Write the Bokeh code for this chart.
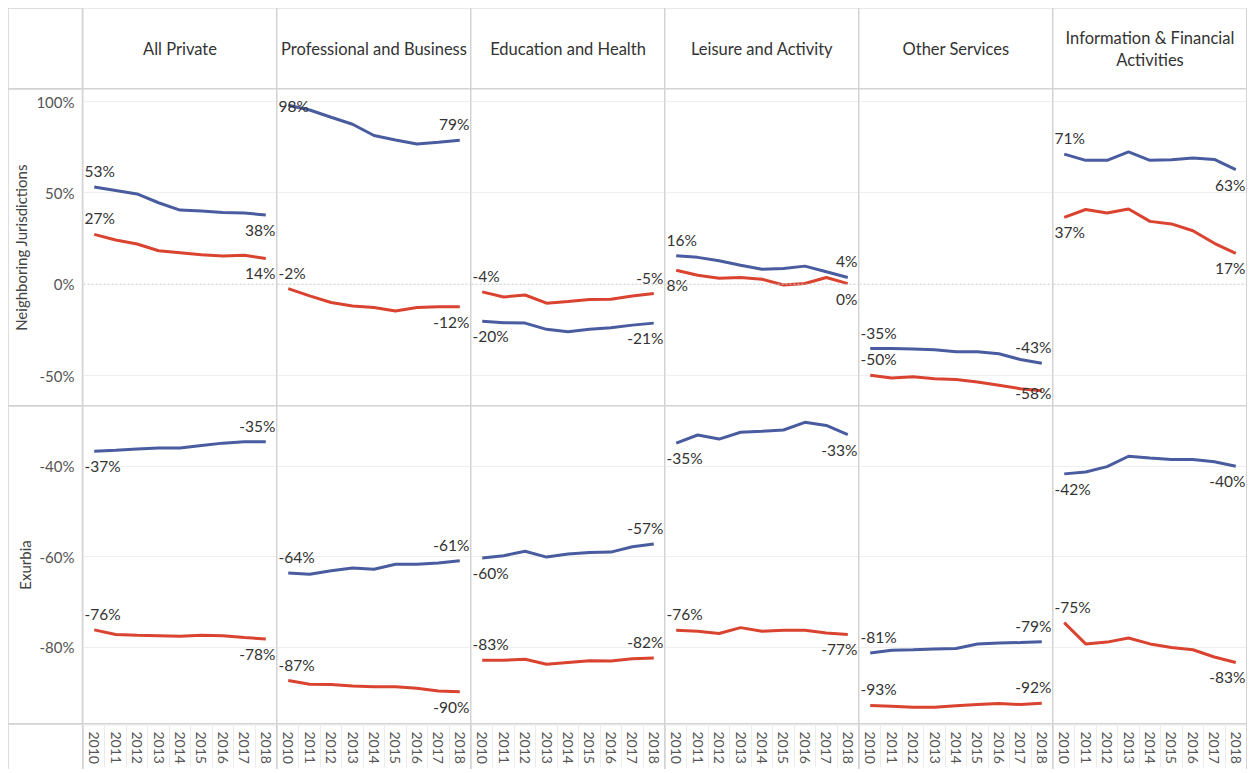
from bokeh.plotting import figure
from bokeh.models import Range1d, FixedTicker, PrintfTickFormatter, Span, Grid, GridBox
from bokeh.core.properties import value
from bokeh.embed import file_html
from bokeh.resources import INLINE

# ---------------- data ----------------
years = [2010, 2011, 2012, 2013, 2014, 2015, 2016, 2017, 2018]
categories = ["All Private", "Professional and Business", "Education and Health",
              "Leisure and Activity", "Other Services", "Information & Financial\nActivities"]
row_titles = ["Neighboring Jurisdictions", "Exurbia"]

# Neighboring Jurisdictions (one list per category, in category order)
nj_blue = [
    [53.2, 51.3, 49.4, 44.6, 40.6, 40.1, 39.2, 39.0, 37.9],
    [98.0, 95.4, 91.4, 87.6, 81.4, 79.0, 76.8, 77.7, 78.8],
    [-20.3, -21.1, -21.3, -24.7, -26.0, -24.7, -23.8, -22.4, -21.3],
    [15.6, 14.7, 12.8, 10.4, 8.2, 8.6, 9.9, 6.8, 3.7],
    [-35.2, -35.2, -35.5, -35.9, -37.0, -37.0, -38.1, -41.2, -43.3],
    [71.2, 67.8, 67.8, 72.4, 67.8, 68.2, 69.1, 68.3, 62.7],
]
nj_red = [
    [27.3, 24.2, 22.0, 18.3, 17.2, 16.1, 15.4, 15.8, 14.1],
    [-2.4, -6.4, -10.0, -11.9, -12.8, -14.7, -12.8, -12.3, -12.4],
    [-4.2, -7.0, -5.9, -10.4, -9.5, -8.4, -8.2, -6.4, -5.1],
    [7.6, 4.9, 3.3, 3.7, 2.7, -0.4, 0.4, 3.7, 0.3],
    [-49.8, -51.3, -50.7, -51.8, -52.2, -53.5, -55.3, -57.2, -58.3],
    [36.6, 40.9, 39.0, 41.2, 34.4, 33.0, 29.3, 22.4, 16.9],
]
# Exurbia
ex_blue = [
    [-36.7, -36.5, -36.2, -36.0, -36.0, -35.4, -34.9, -34.6, -34.6],
    [-63.6, -63.9, -63.1, -62.5, -62.8, -61.7, -61.7, -61.4, -60.9],
    [-60.3, -59.8, -58.8, -60.1, -59.4, -59.1, -59.0, -57.8, -57.2],
    [-34.9, -33.1, -34.0, -32.5, -32.3, -32.0, -30.3, -31.0, -33.0],
    [-81.3, -80.7, -80.6, -80.4, -80.3, -79.3, -79.1, -79.0, -78.8],
    [-41.7, -41.3, -40.1, -37.8, -38.2, -38.5, -38.5, -39.0, -40.0],
]
ex_red = [
    [-76.2, -77.2, -77.4, -77.5, -77.6, -77.4, -77.5, -77.9, -78.2],
    [-87.4, -88.2, -88.3, -88.6, -88.8, -88.8, -89.1, -89.7, -89.9],
    [-82.9, -82.9, -82.7, -83.8, -83.4, -83.0, -83.1, -82.6, -82.4],
    [-76.3, -76.5, -77.0, -75.7, -76.5, -76.3, -76.3, -76.9, -77.2],
    [-92.9, -93.1, -93.3, -93.3, -93.0, -92.7, -92.5, -92.7, -92.4],
    [-74.6, -79.3, -78.9, -78.0, -79.3, -80.1, -80.6, -82.2, -83.4],
]
nj_ticks = [100, 50, 0, -50]
ex_ticks = [-40, -60, -80]

# ---------------- label placement (a = above, b = below) for [first, last] ----------------
nj_blue_pos = [("a", "b"), ("a", "a"), ("b", "b"), ("a", "a"), ("a", "a"), ("a", "b")]
nj_red_pos = [("a", "b"), ("a", "b"), ("a", "a"), ("b", "b"), ("a", "b"), ("b", "b")]
ex_blue_pos = [("b", "a"), ("a", "a"), ("b", "a"), ("b", "b"), ("a", "a"), ("b", "b")]
ex_red_pos = [("a", "b"), ("a", "b"), ("a", "a"), ("a", "b"), ("a", "a"), ("a", "b")]

# ---------------- style ----------------
BLUE = "#4a5ca0"
RED = "#d9432f"
FONT = "Lato"
LINE_GRAY = "#d3d3d3"
COL_W = 193
AXIS_W = 74
AXIS_FRAME = 1
HEAD_H = 80
ROW_H = [316, 317]
YEAR_H = 45
X_LO, X_HI = 2009.5, 2018.5
Y_LIMITS = [(-66.4, 106.6), (-96.9, -26.8)]


def blank(w, h, xr=None, yr=None):
    p = figure(width=w, height=h, output_backend="svg", toolbar_location=None, min_border=0,
               x_axis_location=None, y_axis_location=None,
               x_range=xr if xr is not None else Range1d(0, 1),
               y_range=yr if yr is not None else Range1d(0, 1))
    p.xgrid.visible = False
    p.ygrid.visible = False
    p.outline_line_color = None
    p.background_fill_color = "white"
    p.border_fill_color = "white"
    return p


rows_data = [(nj_blue, nj_red, nj_blue_pos, nj_red_pos, nj_ticks),
             (ex_blue, ex_red, ex_blue_pos, ex_red_pos, ex_ticks)]

children = []

# header row
children.append((blank(AXIS_W, HEAD_H), 0, 0))
for ci, cat in enumerate(categories):
    h = blank(COL_W, HEAD_H)
    h.text(x=[0.5], y=[0.5], text=[cat], text_align="center", text_baseline="middle",
           text_font=value(FONT), text_font_size="16.5px", text_color="#333333",
           text_line_height=1.1)
    children.append((h, 0, ci + 1))

x_ranges = [Range1d(X_LO, X_HI) for _ in categories]

for ri, (blue, red, bpos, rpos, ticks) in enumerate(rows_data):
    lo, hi = Y_LIMITS[ri]
    H = ROW_H[ri]
    yr = Range1d(lo, hi)

    # axis cell
    a = figure(frame_width=AXIS_FRAME, frame_height=H, min_border_left=AXIS_W - AXIS_FRAME,
               min_border_right=0, min_border_top=0, min_border_bottom=0,
               x_axis_location=None, y_axis_location="left",
               x_range=Range1d(0, 1), y_range=yr, output_backend="svg", toolbar_location=None)
    a.outline_line_color = None
    a.border_fill_color = "white"
    ax = a.yaxis[0]
    ax.ticker = FixedTicker(ticks=ticks)
    ax.formatter = PrintfTickFormatter(format="%d%%")
    ax.axis_label = row_titles[ri]
    ax.axis_line_color = None
    ax.major_tick_line_color = None
    ax.minor_tick_line_color = None
    ax.major_tick_out = 0
    ax.major_tick_in = 0
    ax.minor_tick_out = 0
    ax.minor_tick_in = 0
    ax.major_label_text_font = FONT
    ax.major_label_text_font_size = "15px"
    ax.major_label_text_color = "#555555"
    ax.axis_label_text_font = FONT
    ax.axis_label_text_font_style = "normal"
    ax.axis_label_text_font_size = "15px"
    ax.axis_label_text_color = "#444444"
    ax.major_label_standoff = 7
    ax.axis_label_standoff = 3
    a.xgrid.visible = False
    a.ygrid.visible = False
    children.append((a, ri + 1, 0))

    for ci in range(len(categories)):
        p = blank(COL_W, H, x_ranges[ci], yr)
        p.add_layout(Grid(dimension=1, ticker=FixedTicker(ticks=[t for t in ticks if t != 0]),
                          grid_line_color="#efefef"))
        if ri == 0:
            p.add_layout(Span(location=0, dimension="width", line_color="#c4c4c4",
                              line_dash="2 2", line_width=1))
        for series, pos, color in ((red, rpos, RED), (blue, bpos, BLUE)):
            vals = series[ci]
            p.line(years, vals, line_color=color, line_width=3)
            for k, (xv, align, xoff) in enumerate(((X_LO, "left", 1), (X_HI, "right", -1))):
                v = vals[0] if k == 0 else vals[-1]
                sy = (hi - v) / (hi - lo) * H
                c = sy - 16 if pos[ci][k] == "a" else sy + 15
                c = min(max(c, 16), H - 13)
                p.text(x=[xv], y=[v], text=[f"{round(v)}%"], x_offset=xoff, y_offset=c - sy,
                       text_align=align, text_baseline="middle", text_font=value(FONT),
                       text_font_size="15.5px", text_color="#333333")
        children.append((p, ri + 1, ci + 1))

# year axis row
children.append((blank(AXIS_W, YEAR_H), 3, 0))
for ci in range(len(categories)):
    y = figure(frame_width=COL_W, frame_height=1, min_border_left=0, min_border_right=0,
               min_border_top=0, min_border_bottom=YEAR_H - 1, x_range=x_ranges[ci],
               y_range=Range1d(0, 1), x_axis_location="below", y_axis_location=None,
               output_backend="svg", toolbar_location=None)
    y.outline_line_color = None
    y.border_fill_color = "white"
    y.xgrid.visible = False
    y.ygrid.visible = False
    xa = y.xaxis[0]
    xa.ticker = FixedTicker(ticks=years, minor_ticks=[yy + 0.5 for yy in years[:-1]])
    xa.formatter = PrintfTickFormatter(format="%d")
    xa.major_label_orientation = "vertical"
    xa.axis_line_color = None
    xa.major_tick_line_color = None
    xa.major_tick_out = 0
    xa.major_tick_in = 0
    xa.minor_tick_line_color = "#ececec"
    xa.minor_tick_out = 42
    xa.minor_tick_in = 0
    xa.major_label_standoff = -36
    xa.major_label_text_font = FONT
    xa.major_label_text_font_size = "14px"
    xa.major_label_text_color = "#555555"
    children.append((y, 3, ci + 1))

grid = GridBox(children=children, spacing=1,
               styles={"background-color": LINE_GRAY, "padding-right": "1px",
                       "margin-left": "8px", "margin-top": "8px"})

open("out.html", "w").write(file_html(grid, INLINE))
